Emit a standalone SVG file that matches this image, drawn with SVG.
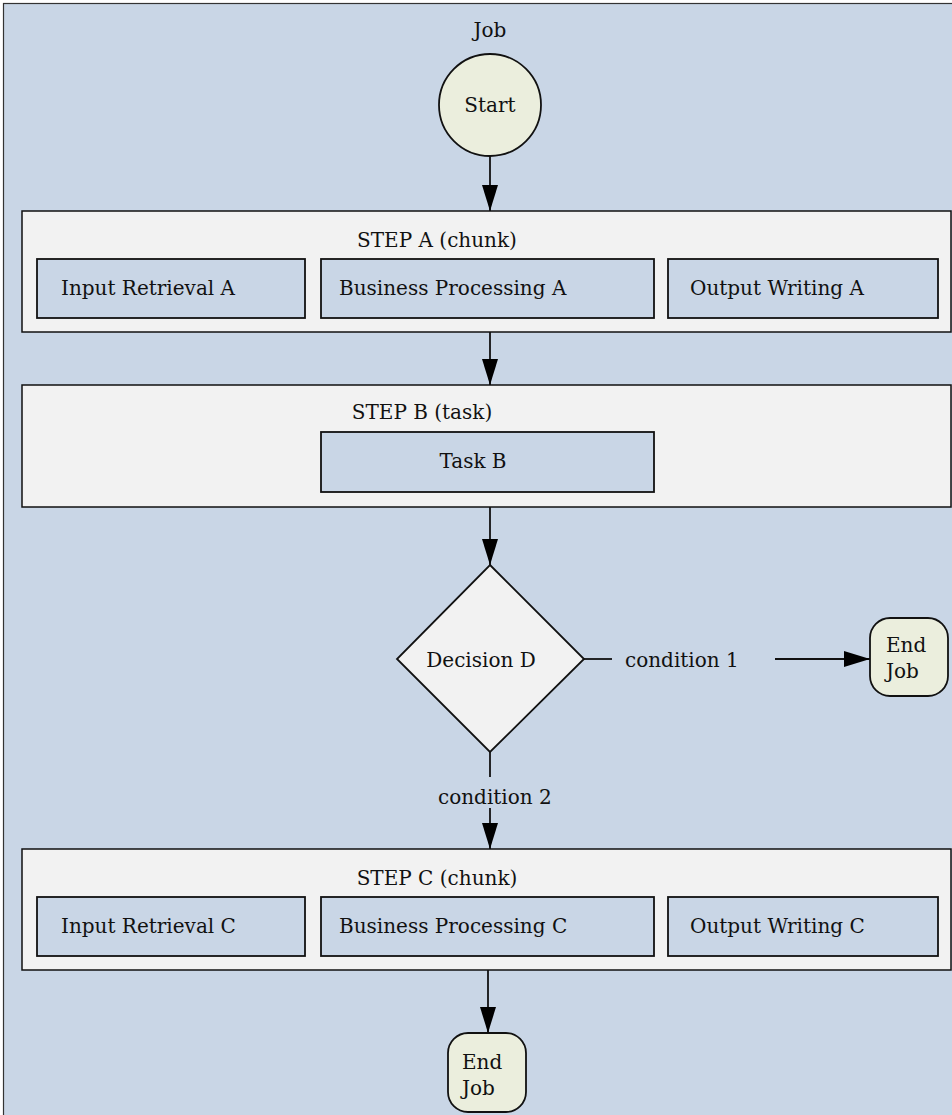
<svg xmlns="http://www.w3.org/2000/svg" width="952" height="1115" viewBox="0 0 952 1115">
<defs>
<style>
text{font-family:"DejaVu Serif","Liberation Serif",serif;font-size:20px;fill:#111}
.outer{fill:#c9d6e6;stroke:#333;stroke-width:1.2}
.step{fill:#f2f2f2;stroke:#111;stroke-width:1.5}
.box{fill:#c9d6e6;stroke:#111;stroke-width:1.8}
.term{fill:#ebeedd;stroke:#111;stroke-width:1.8}
.dec{fill:#f2f2f2;stroke:#111;stroke-width:1.8}
.edge{fill:none;stroke:#111;stroke-width:1.8}
.m{text-anchor:middle}
</style>
<marker id="ah" viewBox="0 0 26 16" refX="26" refY="8" markerWidth="26" markerHeight="16" markerUnits="userSpaceOnUse" orient="auto">
<path d="M0,0 L26,8 L0,16 Z" fill="#000"/>
</marker>
</defs>
<g id="job">
<rect class="outer" x="3.5" y="3.5" width="960" height="1120"/>
<text class="m" x="490" y="37">Job</text>
</g>
<g id="start">
<circle class="term" cx="490" cy="105" r="51"/>
<text class="m" x="490" y="112">Start</text>
</g>
<g id="stepA">
<rect class="step" x="22" y="211" width="929" height="121"/>
<text class="m" x="437" y="247">STEP A (chunk)</text>
<g id="inputA"><rect class="box" x="37" y="259" width="268" height="59"/><text x="61" y="295">Input Retrieval A</text></g>
<g id="procA"><rect class="box" x="321" y="259" width="333" height="59"/><text x="339" y="295">Business Processing A</text></g>
<g id="outA"><rect class="box" x="668" y="259" width="270" height="59"/><text x="690" y="295">Output Writing A</text></g>
</g>
<g id="stepB">
<rect class="step" x="22" y="385" width="929" height="122"/>
<text class="m" x="422" y="419">STEP B (task)</text>
<g id="taskB"><rect class="box" x="321" y="432" width="333" height="60"/><text class="m" x="473" y="468">Task B</text></g>
</g>
<g id="decisionD">
<polygon class="dec" points="490,565 584,659 490,752 397,659"/>
<text class="m" x="481" y="667">Decision D</text>
</g>
<g id="endJob1">
<rect class="term" x="870" y="618" width="78" height="78" rx="20"/>
<text x="886" y="652">End</text>
<text x="886" y="678">Job</text>
</g>
<g id="stepC">
<rect class="step" x="22" y="849" width="929" height="121"/>
<text class="m" x="437" y="885">STEP C (chunk)</text>
<g id="inputC"><rect class="box" x="37" y="897" width="268" height="59"/><text x="61" y="933">Input Retrieval C</text></g>
<g id="procC"><rect class="box" x="321" y="897" width="333" height="59"/><text x="339" y="933">Business Processing C</text></g>
<g id="outC"><rect class="box" x="668" y="897" width="270" height="59"/><text x="690" y="933">Output Writing C</text></g>
</g>
<g id="endJob2">
<rect class="term" x="448" y="1033" width="78" height="79" rx="20"/>
<text x="462" y="1069">End</text>
<text x="462" y="1095">Job</text>
</g>
<g id="connectors">
<path class="edge" d="M490,156 V211" marker-end="url(#ah)"/>
<path class="edge" d="M490,332 V385" marker-end="url(#ah)"/>
<path class="edge" d="M490,507 V565" marker-end="url(#ah)"/>
<path class="edge" d="M584,659 H612"/>
<text x="625" y="667">condition 1</text>
<path class="edge" d="M775,659 H870" marker-end="url(#ah)"/>
<path class="edge" d="M490,752 V777"/>
<text x="438" y="804">condition 2</text>
<path class="edge" d="M490,808 V849" marker-end="url(#ah)"/>
<path class="edge" d="M488,970 V1033" marker-end="url(#ah)"/>
</g>
</svg>
